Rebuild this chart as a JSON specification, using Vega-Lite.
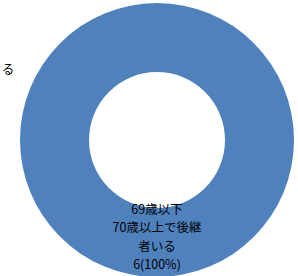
{
  "$schema": "https://vega.github.io/schema/vega-lite/v6.json",
  "autosize": "none",
  "width": 282,
  "height": 272,
  "padding": {"left": 16, "top": 4, "right": 0, "bottom": 0},
  "background": "white",
  "config": {"view": {"stroke": null}},
  "layer": [
    {
      "data": {"values": [
        {"category": "69歳以下 70歳以上で後継者いる", "count": 6, "label": ["69歳以下", "70歳以上で後継", "者いる", "6(100%)"]}
      ]},
      "layer": [
        {
          "mark": {"type": "arc", "outerRadius": 137, "innerRadius": 68},
          "encoding": {
            "theta": {"field": "count", "type": "quantitative", "stack": true},
            "color": {"value": "#4F81BD"}
          }
        },
        {
          "mark": {"type": "text", "radius": 63.5, "font": "Noto Sans CJK JP", "fontSize": 12.5, "lineHeight": 18.5, "color": "#000000", "align": "center", "baseline": "top"},
          "encoding": {
            "theta": {"field": "count", "type": "quantitative", "stack": true},
            "text": {"field": "label"}
          }
        }
      ]
    },
    {
      "data": {"values": [{"label": "る"}]},
      "mark": {"type": "text", "theta": 5.152, "radius": 164.6, "font": "Noto Sans CJK JP", "fontSize": 12.5, "color": "#000000", "align": "center", "baseline": "middle"},
      "encoding": {"text": {"field": "label"}}
    }
  ]
}
